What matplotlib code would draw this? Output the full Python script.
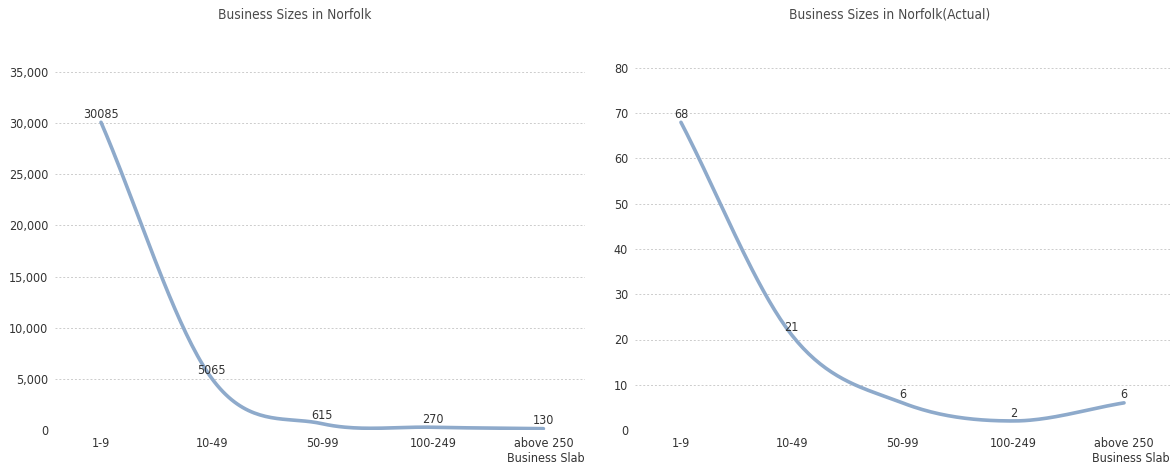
import matplotlib
matplotlib.use("Agg")
import matplotlib.pyplot as plt
import numpy as np

plt.rcParams['font.family'] = ['DejaVu Sans']
plt.rcParams['font.stretch'] = 'condensed'

slabs = ["1-9", "10-49", "50-99", "100-249", "above 250"]
counts = [30085, 5065, 615, 270, 130]
actual = [68, 21, 6, 2, 6]

line_color = "#8eaacb"
text_color = "#333333"
grid_color = "#cccccc"


def smooth(x, y, n=40):
    # catmull-rom through the points, the way the original tool draws it
    x = np.asarray(x, float)
    y = np.asarray(y, float)
    px = np.concatenate([[2 * x[0] - x[1]], x, [2 * x[-1] - x[-2]]])
    py = np.concatenate([[2 * y[0] - y[1]], y, [2 * y[-1] - y[-2]]])
    xs, ys = [], []
    t = np.linspace(0, 1, n)
    for i in range(1, len(px) - 2):
        for p, out in ((px, xs), (py, ys)):
            p0, p1, p2, p3 = p[i - 1], p[i], p[i + 1], p[i + 2]
            out.extend(0.5 * (2 * p1 + (-p0 + p2) * t
                              + (2 * p0 - 5 * p1 + 4 * p2 - p3) * t ** 2
                              + (-p0 + 3 * p1 - 3 * p2 + p3) * t ** 3))
    return np.array(xs), np.array(ys)


def draw(ax, values, title, title_x, ymax, step, fmt, xlim):
    x = np.arange(len(slabs))
    sx, sy = smooth(x, values)
    ax.plot(sx, sy, color=line_color, lw=2.6, solid_capstyle='round')
    for xi, v in zip(x, values):
        ax.annotate(str(v), (xi, v), xytext=(0, 1), textcoords='offset points',
                    ha='center', va='bottom', fontsize=9, color=text_color)
    ax.set_ylim(0, ymax)
    ax.set_xlim(*xlim)
    ax.set_yticks(np.arange(0, ymax + 1, step))
    ax.set_yticklabels([fmt(v) for v in np.arange(0, ymax + 1, step)])
    ax.set_xticks(x)
    ax.set_xticklabels(slabs)
    ax.tick_params(length=0, labelsize=9, labelcolor=text_color, pad=5)
    ax.grid(axis='y', color=grid_color, linestyle=(0, (2, 2)), lw=0.7)
    ax.set_axisbelow(True)
    for s in ax.spines.values():
        s.set_visible(False)
    fig.text(title_x / 1175, 1 - 15 / 468, title, ha='center', va='center',
             fontsize=9.8, color="#4a4a4a", fontweight='medium')
    ax.text(1.0, -28 / 358, "Business Slab", transform=ax.transAxes, ha='right',
            va='center', fontsize=9, color=text_color)


fig = plt.figure(figsize=(11.75, 4.68), dpi=100)
ax1 = fig.add_axes([55 / 1175, 38 / 468, 530 / 1175, 358 / 468])
ax2 = fig.add_axes([635 / 1175, 38 / 468, 535 / 1175, 362 / 468])

draw(ax1, counts, "Business Sizes in Norfolk", 295, 35000, 5000,
     lambda v: f"{int(v):,}", (-0.416, 4.376))
draw(ax2, actual, "Business Sizes in Norfolk(Actual)", 890, 80, 10,
     lambda v: str(int(v)), (-0.415, 4.415))

fig.savefig("out.png", dpi=100)
